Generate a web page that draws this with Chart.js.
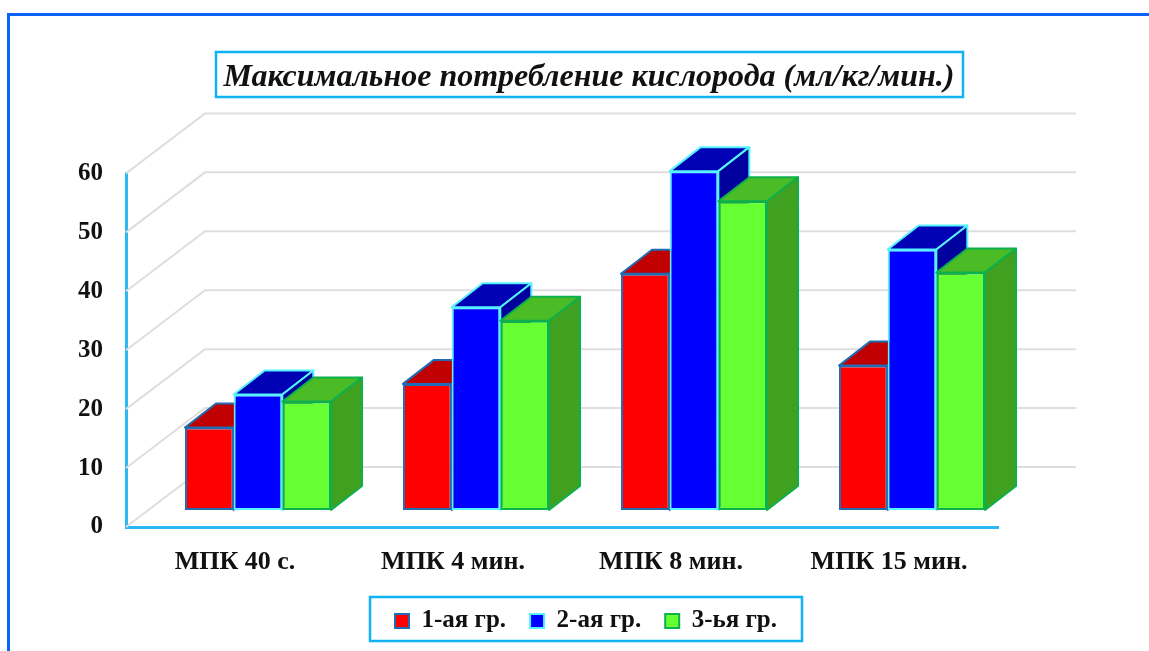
<!DOCTYPE html>
<html>
<head>
<meta charset="utf-8">
<style>
html, body { margin: 0; padding: 0; background: #fff; overflow: hidden; }
#wrap { width: 1149px; height: 651px; }
canvas { filter: blur(0.45px); }
</style>
<script src="https://cdn.jsdelivr.net/npm/chart.js@4"></script>
</head>
<body>
<div id="wrap"><canvas id="chart"></canvas></div>
<script>
const categories = ['МПК 40 с.', 'МПК 4 мин.', 'МПК 8 мин.', 'МПК 15 мин.'];
const group1 = [14, 21.4, 40.1, 24.5];
const group2 = [19.6, 34.4, 57.5, 44.2];
const group3 = [18.4, 32.1, 52.4, 40.3];
const seriesNames = ['1-ая гр.', '2-ая гр.', '3-ья гр.'];
const titleText = 'Максимальное потребление кислорода (мл/кг/мин.)';

const serifFont = '"Liberation Serif", "Times New Roman", serif';
const axisBlue = '#2bb8f4';
const boxBlue = '#0fb2f2';

// how far bars sit behind the axis plane, and how deep they are
const barShift = { x: 23, y: -17 };
const barDepth = { x: 31, y: -24 };
const wallDepth = { x: 79, y: -60 };

// side and top colours per dataset
const faces = [
    { top: '#c00000', side: '#c00000' },
    { top: '#0000b4', side: '#00009c' },
    { top: '#4cbc26', side: '#40a020' }
];

const wallGrid = {
    id: 'wallGrid',
    beforeDatasetsDraw(chart) {
        let ctx = chart.ctx;
        let yScale = chart.scales.y;
        let area = chart.chartArea;
        ctx.save();
        ctx.strokeStyle = '#dedede';
        ctx.lineWidth = 2;
        yScale.ticks.forEach(function (tick) {
            let y = yScale.getPixelForValue(tick.value);
            ctx.beginPath();
            ctx.moveTo(area.left, y);
            ctx.lineTo(area.left + wallDepth.x, y + wallDepth.y);
            ctx.lineTo(area.right + wallDepth.x - 1, y + wallDepth.y);
            ctx.stroke();
        });
        ctx.restore();
    }
};

function drawFaces(ctx, meta, dataset, face) {
    ctx.lineWidth = 2;
    ctx.lineJoin = 'round';
    ctx.strokeStyle = dataset.borderColor;
    meta.data.forEach(function (bar) {
        let left = bar.x - bar.width / 2;
        let right = bar.x + bar.width / 2;
        ctx.fillStyle = face.top;
        ctx.beginPath();
        ctx.moveTo(left, bar.y);
        ctx.lineTo(left + barDepth.x, bar.y + barDepth.y);
        ctx.lineTo(right + barDepth.x, bar.y + barDepth.y);
        ctx.lineTo(right, bar.y);
        ctx.closePath();
        ctx.fill();
        ctx.stroke();
        ctx.fillStyle = face.side;
        ctx.beginPath();
        ctx.moveTo(right, bar.y);
        ctx.lineTo(right + barDepth.x, bar.y + barDepth.y);
        ctx.lineTo(right + barDepth.x, bar.base + barDepth.y);
        ctx.lineTo(right, bar.base);
        ctx.closePath();
        ctx.fill();
        ctx.stroke();
    });
}

const bars3d = {
    id: 'bars3d',
    // Chart.js paints the last dataset first, the boxes need left to right
    beforeDatasetDraw() {
        return false;
    },
    afterDatasetsDraw(chart) {
        let ctx = chart.ctx;
        chart.data.datasets.forEach(function (dataset, i) {
            let meta = chart.getDatasetMeta(i);
            ctx.save();
            ctx.translate(barShift.x, barShift.y);
            drawFaces(ctx, meta, dataset, faces[i]);
            meta.controller.draw();
            ctx.restore();
        });
    }
};

const frames = {
    id: 'frames',
    // title and legend sit off the plot centre in the original
    afterLayout(chart) {
        let title = chart.titleBlock;
        let titleHeight = title.bottom - title.top;
        title.left += 90;
        title.right += 90;
        title.top = 78 - titleHeight / 2;
        title.bottom = title.top + titleHeight;
        let legend = chart.legend;
        let legendHeight = legend.bottom - legend.top;
        legend.left += 87;
        legend.right += 87;
        legend.top = 614 - legendHeight / 2;
        legend.bottom = legend.top + legendHeight;
    },
    beforeDraw(chart) {
        let ctx = chart.ctx;
        ctx.save();
        ctx.strokeStyle = '#0a64fa';
        ctx.lineWidth = 3;
        ctx.beginPath();
        ctx.moveTo(8.5, 651);
        ctx.lineTo(8.5, 14.5);
        ctx.lineTo(1149, 14.5);
        ctx.stroke();
        ctx.strokeStyle = boxBlue;
        ctx.lineWidth = 2.5;
        ctx.strokeRect(216, 52, 747, 45);
        ctx.strokeRect(370, 597, 432, 44);
        ctx.restore();
    }
};

new Chart(document.getElementById('chart'), {
    type: 'bar',
    data: {
        labels: categories,
        datasets: [
            { label: seriesNames[0], data: group1, backgroundColor: '#ff0000', borderColor: '#1f6cb4' },
            { label: seriesNames[1], data: group2, backgroundColor: '#0000ff', borderColor: '#55f2ff' },
            { label: seriesNames[2], data: group3, backgroundColor: '#66ff33', borderColor: '#0cb04c' }
        ]
    },
    options: {
        responsive: true,
        maintainAspectRatio: false,
        animation: false,
        layout: { padding: { top: 135, right: 151, bottom: 0, left: 0 } },
        datasets: {
            bar: {
                categoryPercentage: 0.67,
                barPercentage: 1,
                borderWidth: 2,
                borderSkipped: false,
                clip: false
            }
        },
        scales: {
            x: {
                afterFit(scale) { scale.height = 65; },
                grid: { display: false },
                border: { color: axisBlue, width: 3 },
                ticks: {
                    color: '#111',
                    padding: 12,
                    maxRotation: 0,
                    font: { family: serifFont, size: 26, weight: 'bold' }
                }
            },
            y: {
                min: 0,
                max: 60,
                afterFit(scale) { scale.width = 126; },
                grid: { display: false },
                border: { color: axisBlue, width: 3 },
                ticks: {
                    stepSize: 10,
                    color: '#111',
                    padding: 15,
                    font: { family: serifFont, size: 25, weight: 'bold' }
                }
            }
        },
        plugins: {
            title: {
                display: true,
                text: titleText,
                color: '#111',
                padding: 0,
                font: { family: serifFont, size: 32, style: 'italic', weight: 'bold' }
            },
            legend: {
                position: 'bottom',
                labels: {
                    color: '#111',
                    boxWidth: 14,
                    boxHeight: 14,
                    padding: 24,
                    font: { family: serifFont, size: 25, weight: 'bold' }
                }
            },
            tooltip: { enabled: false }
        }
    },
    plugins: [frames, wallGrid, bars3d]
});
</script>
</body>
</html>
